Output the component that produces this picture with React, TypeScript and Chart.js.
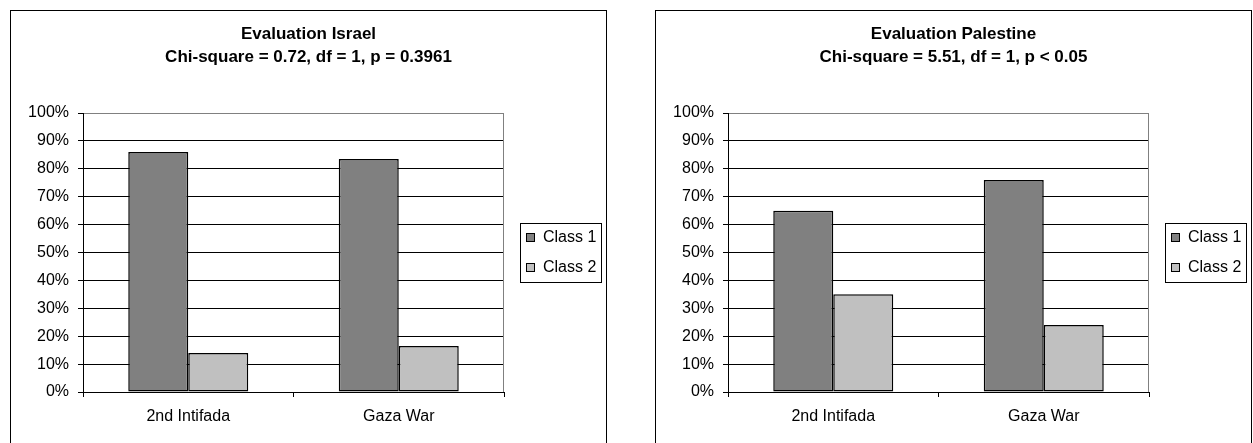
import React, { useEffect, useRef } from "react";
import { Chart, registerables } from "chart.js";

Chart.register(...registerables);

// ---- data ----
const categories = ["2nd Intifada", "Gaza War"];
const seriesNames = ["Class 1", "Class 2"];
const seriesColors = ["#808080", "#C0C0C0"];
const israelClass1 = [86, 83.5];
const israelClass2 = [14, 16.5];
const palestineClass1 = [65, 76];
const palestineClass2 = [35, 24];
const israelTitle = ["Evaluation Israel", "Chi-square = 0.72, df = 1, p = 0.3961"];
const palestineTitle = ["Evaluation Palestine", "Chi-square = 5.51, df = 1, p < 0.05"];
const yMin = 0;
const yMax = 100;
const yStep = 10;

const FONT = "'Liberation Sans', Arial, Helvetica, sans-serif";
const CANVAS_W = 595;
const CANVAS_H = 440;

// Title centred on the whole frame, plus the boxed legend and gray right border
const frameDecor = {
  id: "frameDecor",
  afterDraw(chart: any, _args: any, opts: any) {
    const ctx = chart.ctx as CanvasRenderingContext2D;
    const ca = chart.chartArea;
    ctx.save();

    // title
    const lines: string[] = opts.title || [];
    ctx.font = `bold 17px ${FONT}`;
    ctx.fillStyle = "#000";
    ctx.textAlign = "center";
    ctx.textBaseline = "middle";
    lines.forEach((t, i) => ctx.fillText(t, chart.width / 2, 23 + i * 23));

    // plot area right border (gray)
    ctx.strokeStyle = "#808080";
    ctx.lineWidth = 1;
    ctx.beginPath();
    const rx = Math.round(ca.right) - 0.5;
    ctx.moveTo(rx, Math.round(ca.top));
    ctx.lineTo(rx, Math.round(ca.bottom));
    ctx.stroke();

    // legend box
    const boxW = 81;
    const boxH = 59;
    const x0 = Math.round(ca.right) + 16;
    const y0 = Math.round((ca.top + ca.bottom) / 2 - boxH / 2);
    ctx.fillStyle = "#fff";
    ctx.fillRect(x0, y0, boxW, boxH);
    ctx.strokeStyle = "#000";
    ctx.strokeRect(x0 + 0.5, y0 + 0.5, boxW, boxH);
    ctx.font = `16px ${FONT}`;
    ctx.textBaseline = "middle";
    ctx.textAlign = "left";
    chart.data.datasets.forEach((ds: any, i: number) => {
      const cy = y0 + 14 + i * 30;
      ctx.fillStyle = ds.backgroundColor;
      ctx.fillRect(x0 + 6, cy - 4, 8, 8);
      ctx.strokeStyle = "#000";
      ctx.strokeRect(x0 + 6.5, cy - 3.5, 8, 8);
      ctx.fillStyle = "#000";
      ctx.fillText(ds.label, x0 + 23, cy + 1);
    });
    ctx.restore();
  },
};

function BarPanel({ title, c1, c2 }: { title: string[]; c1: number[]; c2: number[] }) {
  const ref = useRef<HTMLCanvasElement | null>(null);
  useEffect(() => {
    if (!ref.current) return;
    const chart = new Chart(ref.current, {
      type: "bar",
      data: {
        labels: categories,
        datasets: [
          {
            label: seriesNames[0],
            data: c1,
            backgroundColor: seriesColors[0],
            borderColor: "#000",
            borderWidth: 1.5,
            borderSkipped: false,
          },
          {
            label: seriesNames[1],
            data: c2,
            backgroundColor: seriesColors[1],
            borderColor: "#000",
            borderWidth: 1.5,
            borderSkipped: false,
          },
        ],
      },
      options: {
        responsive: false,
        animation: false,
        devicePixelRatio: 1,
        datasets: { bar: { barPercentage: 1, categoryPercentage: 0.57 } },
        layout: { padding: { left: 12, right: 102, top: 102, bottom: 19 } },
        plugins: {
          legend: { display: false },
          tooltip: { enabled: false },
          title: { display: false },
          frameDecor: { title },
        },
        scales: {
          x: {
            afterFit: (s: any) => {
              s.height = 40;
            },
            grid: {
              display: true,
              drawOnChartArea: false,
              drawTicks: true,
              tickLength: 5,
              tickColor: "#000",
              offset: true,
            },
            border: { display: true, color: "#000", width: 1 },
            ticks: { color: "#000", font: { family: FONT, size: 16 }, padding: 10 },
          },
          y: {
            min: yMin,
            max: yMax,
            afterFit: (s: any) => {
              s.width = 60;
            },
            grid: {
              color: (c: any) => (c.tick && c.tick.value === yMax ? "#808080" : "#000"),
              lineWidth: 1,
              drawTicks: true,
              tickLength: 5,
              tickColor: "#000",
            },
            border: { display: true, color: "#000", width: 1 },
            ticks: {
              stepSize: yStep,
              color: "#000",
              padding: 9,
              font: { family: FONT, size: 16 },
              callback: (v: any) => `${v}%`,
            },
          },
        },
      },
      plugins: [frameDecor],
    } as any);
    return () => chart.destroy();
  }, [title, c1, c2]);
  return (
    <canvas
      ref={ref}
      width={CANVAS_W}
      height={CANVAS_H}
      style={{ display: "block", width: CANVAS_W, height: CANVAS_H }}
    />
  );
}

export default function App() {
  const frame = (left: number): React.CSSProperties => ({
    position: "absolute",
    left,
    top: 10,
    width: CANVAS_W,
    height: CANVAS_H,
    border: "1px solid #000",
    background: "#fff",
  });
  return (
    <div
      style={{
        position: "fixed",
        left: 0,
        top: 0,
        width: 1253,
        height: 443,
        overflow: "hidden",
        background: "#fff",
      }}
    >
      <div style={frame(10)}>
        <BarPanel title={israelTitle} c1={israelClass1} c2={israelClass2} />
      </div>
      <div style={frame(655)}>
        <BarPanel title={palestineTitle} c1={palestineClass1} c2={palestineClass2} />
      </div>
    </div>
  );
}
